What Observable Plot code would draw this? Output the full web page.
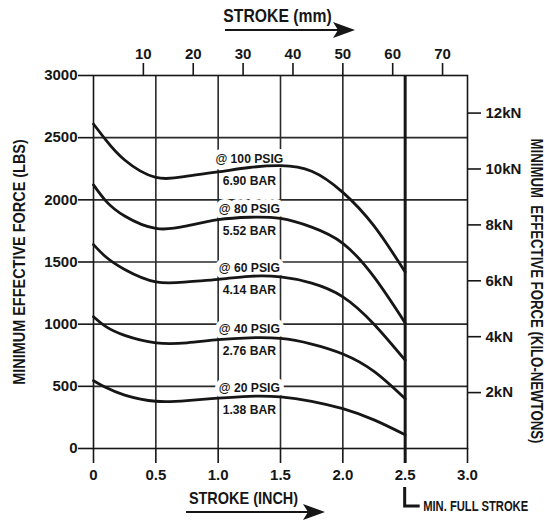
<!DOCTYPE html>
<html>
<head>
<meta charset="utf-8">
<script src="https://cdn.jsdelivr.net/npm/d3@7"></script>
<script src="https://cdn.jsdelivr.net/npm/@observablehq/plot@0.6"></script>
<style>
  html, body { margin: 0; padding: 0; background: #fff; }
  #chart { width: 545px; height: 520px; }
</style>
</head>
<body>
<div id="chart"></div>
<script>
// ---- data ----
const strokeIn = [0, 0.1, 0.25, 0.5, 0.75, 1.0, 1.25, 1.5, 1.75, 2.0, 2.25, 2.5];
const psig = [100, 80, 60, 40, 20];
const bar = ["6.90", "5.52", "4.14", "2.76", "1.38"];
const force100 = [2610, 2480, 2320, 2180, 2190, 2225, 2260, 2275, 2230, 2060, 1790, 1420];
const force80  = [2120, 1990, 1870, 1770, 1790, 1840, 1860, 1850, 1780, 1650, 1380, 1010];
const force60  = [1640, 1540, 1440, 1340, 1340, 1360, 1385, 1380, 1330, 1220, 1000, 710];
const force40  = [1060, 980, 910, 850, 850, 875, 890, 885, 840, 760, 620, 400];
const force20  = [545, 490, 430, 380, 385, 405, 420, 415, 380, 320, 230, 110];
const forces = [force100, force80, force60, force40, force20];
const labelAt = 1.25;            // stroke (inch) where the pressure labels sit
const xTicks = [0, 0.5, 1.0, 1.5, 2.0, 2.5, 3.0];
const gridXs = [0.5, 1.0, 1.5, 2.0];
const yTicks = [0, 500, 1000, 1500, 2000, 2500, 3000];
const mmTicks = [10, 20, 30, 40, 50, 60, 70];
const kNTicks = [2, 4, 6, 8, 10, 12];
const minFullStroke = 2.5;
const mmPerInch = 25;            // as drawn on the chart's top scale
const lbsPerKN = 224.81;

// ---- tables ----
const rows = psig.flatMap((p, i) => strokeIn.map((x, j) => ({x, y: forces[i][j], psig: p})));
const labels = psig.map((p, i) => ({
  x: labelAt,
  y: forces[i][strokeIn.indexOf(labelAt)],
  psig: `@ ${p} PSIG`,
  bar: `${bar[i]} BAR`
}));

const ink = "#161616";
const face = "'Liberation Sans', Arial, Helvetica, sans-serif";

function arrowHead(g, x2, y) {
  g.append("path")
    .attr("d", `M${x2},${y}L${x2 - 22},${y - 8}L${x2 - 17},${y}L${x2 - 22},${y + 8}Z`)
    .attr("fill", ink).attr("stroke", "none");
}

function decorations(index, scales, values, dim) {
  const {height, marginLeft, marginTop, marginBottom} = dim;
  const g = d3.create("svg:g");
  const top = marginTop, bottom = height - marginBottom;
  g.append("line").attr("x1", marginLeft + 132).attr("x2", marginLeft + 250)
    .attr("y1", top - 45).attr("y2", top - 45).attr("stroke", ink).attr("stroke-width", 2);
  arrowHead(g, marginLeft + 262, top - 45);
  g.append("line").attr("x1", marginLeft + 93).attr("x2", marginLeft + 220)
    .attr("y1", bottom + 64).attr("y2", bottom + 64).attr("stroke", ink).attr("stroke-width", 2);
  arrowHead(g, marginLeft + 232, bottom + 64);
  const X = scales.x(minFullStroke);
  g.append("path").attr("d", `M${X},${bottom + 39}V${bottom + 58}H${X + 15}`)
    .attr("fill", "none").attr("stroke", ink).attr("stroke-width", 3);
  return g.node();
}

const bold = {fontFamily: face, fontWeight: "bold", fill: ink};

const chart = Plot.plot({
  width: 545,
  height: 520,
  marginLeft: 93,
  marginRight: 78,
  marginTop: 75,
  marginBottom: 72,
  style: {fontFamily: face, fontWeight: "bold", fontSize: "15px", color: ink, background: "#fff"},
  x: {domain: [0, 3]},
  y: {domain: [0, 3000]},
  marks: [
    Plot.gridY(yTicks.filter(d => d > 0 && d < 3000), {stroke: "#2a2a2a", strokeOpacity: 1, strokeWidth: 1.6}),
    Plot.gridX(gridXs, {stroke: "#2a2a2a", strokeOpacity: 1, strokeWidth: 1.6}),
    Plot.text(labels, {x: "x", y: "y", text: "psig", dy: -9, stroke: "#fff", strokeWidth: 10,
      fontSize: 13.5, letterSpacing: "0.8px", ...bold}),
    Plot.text(labels, {x: "x", y: "y", text: "bar", dy: 13, stroke: "#fff", strokeWidth: 3,
      fontSize: 13.5, letterSpacing: "0.8px", ...bold}),
    Plot.line(rows, {x: "x", y: "y", z: "psig", curve: "natural", stroke: ink, strokeWidth: 2.8}),
    Plot.ruleX([minFullStroke], {stroke: ink, strokeWidth: 3, insetBottom: -15}),
    Plot.frame({stroke: ink, strokeWidth: 1.6}),
    Plot.axisX(xTicks, {anchor: "bottom", tickSize: 15, tickPadding: 6, strokeWidth: 1.6, label: null,
      tickFormat: d => d === 0 ? "0" : d.toFixed(1), fontSize: 15}),
    Plot.axisX(mmTicks.map(m => m / mmPerInch), {anchor: "top", tickSize: 13, tickPadding: 4, strokeWidth: 1.6,
      label: null, tickFormat: d => String(Math.round(d * mmPerInch)), fontSize: 15}),
    Plot.axisY(yTicks, {anchor: "left", tickSize: 15, tickPadding: 1, strokeWidth: 1.6, label: null,
      tickFormat: d => String(d), fontSize: 15}),
    Plot.axisY(kNTicks.map(k => k * lbsPerKN), {anchor: "right", tickSize: 13, tickPadding: 5, strokeWidth: 1.6,
      label: null, tickFormat: d => Math.round(d / lbsPerKN) + "kN", fontSize: 15}),
    Plot.text(["STROKE (mm)"], {frameAnchor: "top", dx: -3, dy: -59, textAnchor: "middle", lineAnchor: "middle",
      fontSize: 18.5, ...bold}),
    Plot.text(["STROKE (INCH)"], {frameAnchor: "bottom", dx: -37, dy: 50, textAnchor: "middle", lineAnchor: "middle",
      fontSize: 17, ...bold}),
    Plot.text(["MINIMUM EFFECTIVE FORCE (LBS)"], {frameAnchor: "left", dx: -74, rotate: -90, textAnchor: "middle",
      lineAnchor: "middle", fontSize: 17, ...bold}),
    Plot.text(["MINIMUM  EFFECTIVE FORCE (KILO-NEWTONS)"], {frameAnchor: "right", dx: 69, dy: 29, rotate: 90,
      textAnchor: "middle", lineAnchor: "middle", fontSize: 16.5, ...bold}),
    Plot.text([minFullStroke], {x: d => d, frameAnchor: "bottom", text: () => "MIN. FULL STROKE", dx: 18, dy: 58,
      textAnchor: "start", lineAnchor: "middle", fontSize: 14, ...bold}),
    decorations
  ]
});
document.getElementById("chart").append(chart);

// condensed lettering (Helvetica Condensed look): squeeze the annotation texts horizontally
function squeeze(s) {
  if (s.startsWith("@") || s.endsWith("BAR")) return 0.9;
  if (s.startsWith("STROKE") || s.endsWith("(LBS)")) return 0.85;
  return 0.8;
}
chart.querySelectorAll('g[aria-label="text"] text').forEach(t => {
  const len = t.getComputedTextLength();
  t.setAttribute("textLength", (len * squeeze(t.textContent)).toFixed(1));
  t.setAttribute("lengthAdjust", "spacingAndGlyphs");
});
</script>
</body>
</html>
